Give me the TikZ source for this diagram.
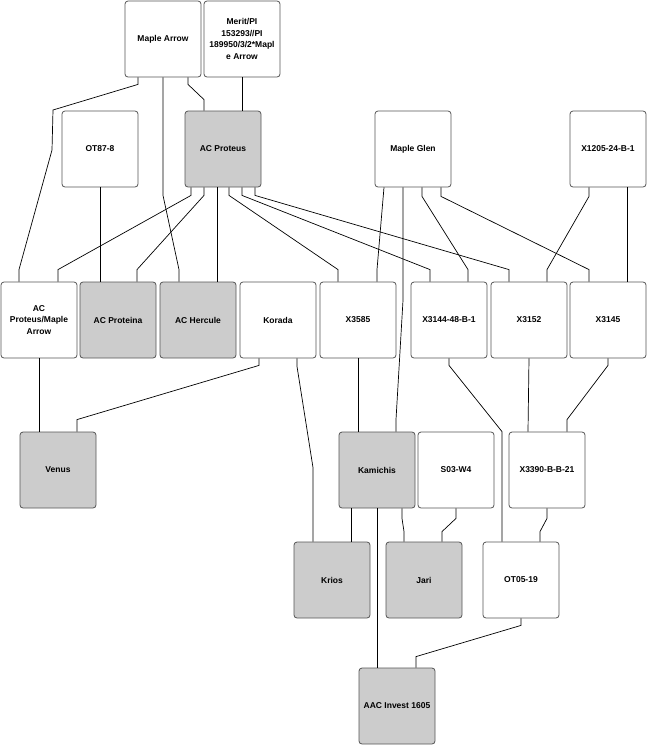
\documentclass[tikz,border=0pt]{standalone}
\usepackage{fontspec}
\setmainfont{Liberation Sans}
\usepackage{tikz}
\usetikzlibrary{calc}
\definecolor{boxgray}{RGB}{204,204,204}
\definecolor{boxline}{RGB}{85,85,85}
\tikzset{
  box/.style={rectangle, draw=boxline, fill=white,
    minimum size=76pt, inner sep=2pt, align=center,
    font=\bfseries\fontsize{8.5}{11.5}\selectfont,
    rounded corners=3pt, line width=0.8pt},
  graybox/.style={box, fill=boxgray},
  link/.style={line width=0.7pt, color=black}
}

\begin{document}
\begin{tikzpicture}[x=1pt, y=-1pt]
  \useasboundingbox (0,0) rectangle (647,745);

  % Top rows
  \node[box] (mapleArrow) at (163,39) {Maple Arrow};
  \node[box] (merit) at (242,39) {Merit/PI\\153293//PI\\189950/3/2*Mapl\\e Arrow};
  \node[box] (ot878) at (100,149) {OT87-8};
  \node[graybox] (acProteus) at (223,149) {AC Proteus};
  \node[box] (mapleGlen) at (413,149) {Maple Glen};
  \node[box] (x1205) at (608,149) {X1205-24-B-1};

  % Middle row
  \node[box] (acPMA) at (39,320) {AC\\Proteus/Maple\\Arrow};
  \node[graybox] (acProteina) at (118,320) {AC Proteina};
  \node[graybox] (acHercule) at (198,320) {AC Hercule};
  \node[box] (korada) at (278,320) {Korada};
  \node[box] (x3585) at (358,320) {X3585};
  \node[box] (x3144) at (449,320) {X3144-48-B-1};
  \node[box] (x3152) at (529,320) {X3152};
  \node[box] (x3145) at (608,320) {X3145};

  % Lower rows
  \node[graybox] (venus) at (58,470) {Venus};
  \node[graybox] (kamichis) at (377,470) {Kamichis};
  \node[box] (s03) at (456,470) {S03-W4};
  \node[box] (x3390) at (547,470) {X3390-B-B-21};
  \node[graybox] (krios) at (332,580) {Krios};
  \node[graybox] (jari) at (424,580) {Jari};
  \node[box] (ot0519) at (521,580) {OT05-19};
  \node[graybox] (aac) at (397,706) {AAC Invest 1605};

  % Links from Maple Arrow and Merit/PI
  \draw[link] ([xshift=-25pt]mapleArrow.south) -- ++(0,7) -- (53,110) -- (52,150)
    -- ([xshift=-20pt,yshift=12pt]acPMA.north) -- ([xshift=-20pt]acPMA.north);
  \draw[link] (mapleArrow.south) -- ++(0,118)
    -- ([xshift=-19pt,yshift=12pt]acHercule.north) -- ([xshift=-19pt]acHercule.north);
  \draw[link] ([xshift=25pt]mapleArrow.south) -- ++(0,7)
    -- ([xshift=-19pt,yshift=11pt]acProteus.north) -- ([xshift=-19pt]acProteus.north);
  \draw[link] (merit.south) -- ([xshift=19pt]acProteus.north);
  \draw[link] (ot878.south) -- (ot878.south |- acProteina.north);

  % Links from AC Proteus
  \draw[link] ([xshift=-32pt]acProteus.south) -- ++(0,8)
    -- ([xshift=19pt,yshift=12pt]acPMA.north) -- ([xshift=19pt]acPMA.north);
  \draw[link] ([xshift=-19pt]acProteus.south) -- ++(0,8)
    -- ([xshift=19pt,yshift=12pt]acProteina.north) -- ([xshift=19pt]acProteina.north);
  \draw[link] ([xshift=-6pt]acProteus.south) -- ([xshift=19pt]acHercule.north);
  \draw[link] ([xshift=6pt]acProteus.south) -- ++(0,8)
    -- ([xshift=-20pt,yshift=12pt]x3585.north) -- ([xshift=-20pt]x3585.north);
  \draw[link] ([xshift=19pt]acProteus.south) -- ++(0,8)
    -- ([xshift=-19pt,yshift=12pt]x3144.north) -- ([xshift=-19pt]x3144.north);
  \draw[link] ([xshift=32pt]acProteus.south) -- ++(0,8)
    -- ([xshift=-20pt,yshift=12pt]x3152.north) -- ([xshift=-20pt]x3152.north);

  % Links from Maple Glen and X1205-24-B-1
  \draw[link] ([xshift=-29pt]mapleGlen.south)
    -- ([xshift=19pt,yshift=12pt]x3585.north) -- ([xshift=19pt]x3585.north);
  \draw[link] ([xshift=-10pt]mapleGlen.south) -- ++(0,113)
    -- ([xshift=19pt,yshift=12pt]kamichis.north) -- ([xshift=19pt]kamichis.north);
  \draw[link] ([xshift=9pt]mapleGlen.south) -- ++(0,9)
    -- ([xshift=19pt,yshift=12pt]x3144.north) -- ([xshift=19pt]x3144.north);
  \draw[link] ([xshift=28pt]mapleGlen.south) -- ++(0,9)
    -- ([xshift=-19pt,yshift=12pt]x3145.north) -- ([xshift=-19pt]x3145.north);
  \draw[link] ([xshift=-19pt]x1205.south) -- ++(0,9)
    -- ([xshift=18pt,yshift=12pt]x3152.north) -- ([xshift=18pt]x3152.north);
  \draw[link] ([xshift=19pt]x1205.south) -- ([xshift=19pt]x3145.north);

  % Links from the middle row
  \draw[link] (acPMA.south) -- ([xshift=-19pt]venus.north);
  \draw[link] ([xshift=-19pt]korada.south) -- ++(0,7)
    -- ([xshift=19pt,yshift=12pt]venus.north) -- ([xshift=19pt]venus.north);
  \draw[link] ([xshift=19pt]korada.south) -- ++(0,8)
    -- ([xshift=-19pt,yshift=74pt]krios.north) -- ([xshift=-19pt]krios.north);
  \draw[link] (x3585.south) -- ([xshift=-19pt]kamichis.north);
  \draw[link] (x3144.south) -- ++(0,7)
    -- ([xshift=-19pt,yshift=110pt]ot0519.north) -- ([xshift=-19pt]ot0519.north);
  \draw[link] (x3152.south) -- ([xshift=-19pt]x3390.north);
  \draw[link] (x3145.south) -- ++(0,7)
    -- ([xshift=20pt,yshift=12pt]x3390.north) -- ([xshift=20pt]x3390.north);

  % Links from the lower rows
  \draw[link] ([xshift=-26pt]kamichis.south) -- ([xshift=19pt]krios.north);
  \draw[link] (kamichis.south) -- ([xshift=-20pt]aac.north);
  \draw[link] ([xshift=25pt]kamichis.south) -- ++(0,10)
    -- ([xshift=-20pt,yshift=10pt]jari.north) -- ([xshift=-20pt]jari.north);
  \draw[link] (s03.south) -- ++(0,10)
    -- ([xshift=18pt,yshift=10pt]jari.north) -- ([xshift=18pt]jari.north);
  \draw[link] (x3390.south) -- ++(0,10)
    -- ([xshift=19pt,yshift=10pt]ot0519.north) -- ([xshift=19pt]ot0519.north);
  \draw[link] (ot0519.south) -- ++(0,7)
    -- ([xshift=19pt,yshift=11pt]aac.north) -- ([xshift=19pt]aac.north);
\end{tikzpicture}
\end{document}
